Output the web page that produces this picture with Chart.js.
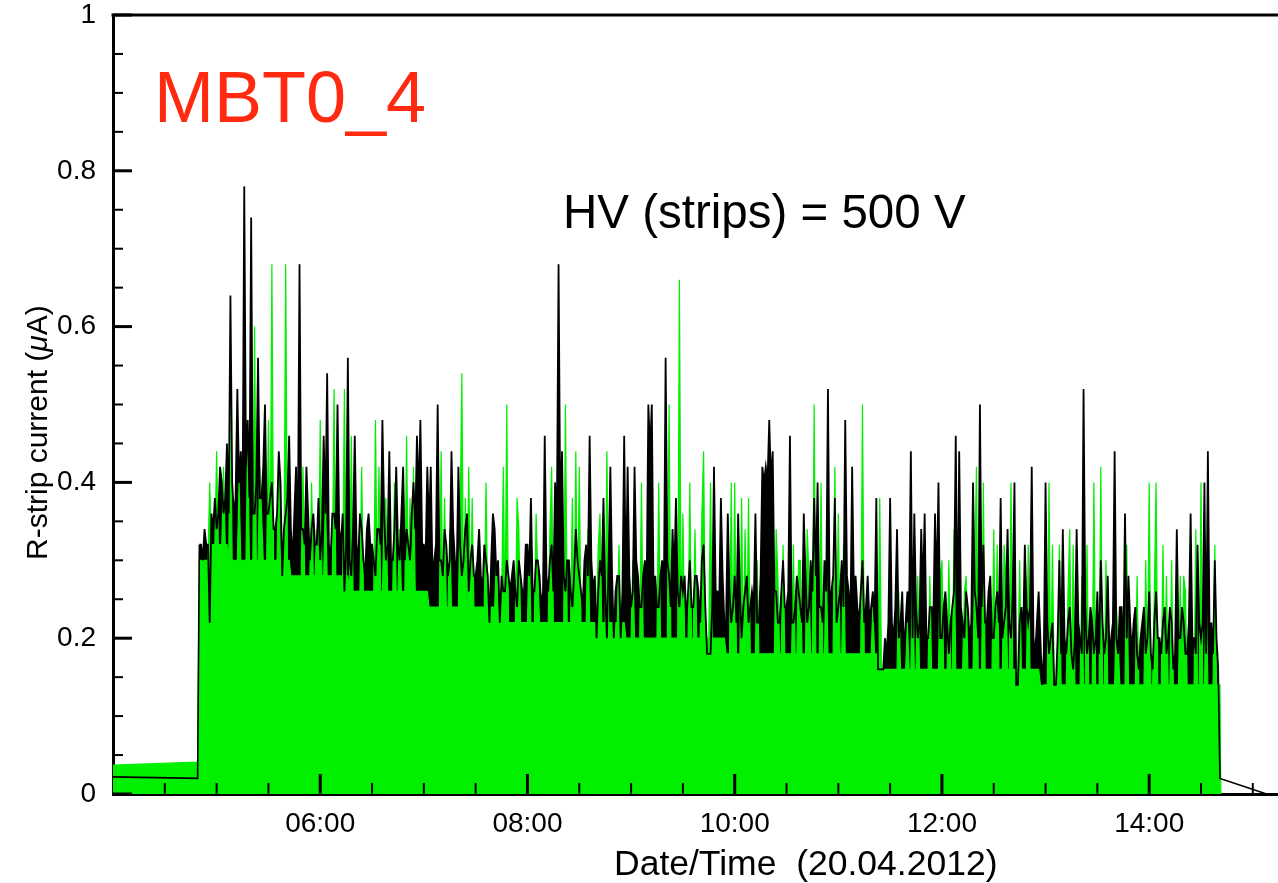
<!DOCTYPE html>
<html><head><meta charset="utf-8">
<script src="https://cdn.jsdelivr.net/npm/chart.js@4.4.1/dist/chart.umd.min.js"></script>
<style>
html,body{margin:0;padding:0;background:#fff;overflow:hidden;}
#wrap{position:relative;width:1278px;height:883px;}
canvas{position:absolute;left:0;top:0;}
.t{position:absolute;font-family:"Liberation Sans",Arial,Helvetica,sans-serif;line-height:1;white-space:pre;color:#000;}
#yt{transform-origin:0 0;transform:rotate(-90deg);}
</style></head><body>
<div id="wrap">
<canvas id="c" width="1278" height="883"></canvas>
<div class="t" style="left:154px;top:61px;font-size:72px;color:#ff2a10;">MBT0_4</div>
<div class="t" style="left:563px;top:188px;font-size:47.5px;">HV (strips) = 500 V</div>
<div class="t" style="left:614px;top:846px;font-size:35.5px;">Date/Time  (20.04.2012)</div>
<div class="t" id="yt" style="left:22px;top:560px;font-size:30px;">R-strip current (<i>μ</i>A)</div>
</div>
<script>
// x in minutes after midnight, 20.04.2012; one sample per minute from 04:50 to 14:40
// currents in units of 0.01 μA
const sampleStartMin = 290;   // 04:50
const sampleStepMin = 1;
const greenCurrent = [
30,30,30,30,30,30,40,32,32,32,44,32,32,32,42,32,32,30,50,30,
30,30,30,40,30,30,30,30,46,30,30,30,60,30,30,42,36,30,30,30,
48,30,68,30,30,30,42,30,30,30,68,30,30,28,28,28,28,28,28,28,
42,28,28,28,28,40,28,28,34,28,48,28,28,38,28,28,28,28,52,28,
28,28,28,28,52,28,28,26,46,26,26,26,26,26,42,26,26,26,26,26,
26,26,48,26,42,26,26,36,38,26,26,26,26,40,26,26,34,26,26,26,
46,26,38,26,42,26,26,26,26,26,26,26,26,24,24,24,24,24,24,24,
44,24,38,24,24,34,24,24,24,24,24,36,54,24,38,24,42,24,38,24,
24,24,24,24,24,24,40,24,24,24,24,24,30,24,24,24,42,22,50,22,
22,22,22,22,38,34,22,22,22,22,22,32,22,22,22,36,28,22,22,22,
22,22,22,34,42,22,22,22,22,22,22,22,50,22,22,22,38,22,44,22,
42,22,22,22,22,34,22,22,22,22,22,32,36,22,22,22,44,22,22,22,
22,22,22,32,22,22,22,20,20,20,20,30,20,20,20,20,40,20,20,20,
20,20,20,20,20,20,40,20,20,20,20,20,50,20,20,20,20,20,66,20,
36,20,20,20,40,20,20,34,20,20,20,36,44,20,20,20,40,20,20,20,
20,20,20,20,20,18,18,18,40,18,40,18,18,18,38,18,34,18,38,18,
18,18,18,30,18,18,18,18,18,18,18,18,18,18,34,28,18,18,32,18,
18,18,18,18,32,18,18,30,30,18,18,18,34,28,18,18,50,18,18,18,
40,18,18,30,18,18,18,18,42,18,36,18,18,32,18,18,18,18,18,18,
18,18,18,18,50,18,18,18,18,18,24,18,18,18,38,16,16,16,16,16,
16,16,16,16,16,26,16,16,16,16,22,16,16,30,16,16,28,16,16,16,
16,16,16,28,16,16,16,16,16,28,30,16,16,16,30,16,16,34,16,16,
16,16,16,26,28,16,16,16,16,30,42,16,16,16,40,16,16,16,16,16,
34,16,32,16,16,16,32,28,16,16,40,16,16,16,16,30,16,16,16,16,
32,16,16,16,16,16,16,14,14,14,14,14,40,14,32,14,14,14,32,14,
14,14,14,26,34,14,32,14,14,14,14,28,14,14,32,14,14,14,40,14,
14,14,42,14,14,30,14,14,14,14,14,24,20,14,14,14,14,32,14,14,
14,14,14,28,14,14,14,14,30,14,40,14,14,26,40,14,14,14,32,14,
28,14,14,30,14,14,14,14,28,14,28,26,14,14,14,14,14,34,14,14,
40,14,14,26,14,14,14,14,32,14,14];
const blackCurrent = [
32,32,30,34,32,32,22,36,34,38,34,36,42,40,36,38,45,36,64,40,
36,38,52,40,44,36,78,42,48,38,74,36,36,40,56,38,38,42,50,36,
36,38,40,34,34,36,44,40,28,34,36,38,46,34,30,36,42,32,68,34,
34,32,42,36,30,34,36,32,32,38,30,34,46,36,54,32,30,36,36,34,
50,34,32,36,26,32,56,30,28,34,46,32,30,36,34,30,28,34,36,32,
32,30,28,34,34,32,48,36,30,32,44,30,30,34,42,32,30,36,42,30,
34,32,30,36,40,34,46,38,48,32,32,30,42,34,42,28,30,32,50,30,
30,28,34,32,28,30,44,34,30,28,42,32,28,30,34,36,26,30,32,28,
28,30,34,28,26,32,30,28,22,30,36,34,28,30,22,28,26,26,30,28,
26,28,30,26,24,30,28,26,26,32,32,28,38,26,26,30,30,28,24,26,
46,28,26,30,32,26,40,34,68,36,44,28,26,30,30,26,24,28,34,30,
28,26,24,30,32,28,46,30,26,28,20,26,30,28,38,26,20,30,42,28,
20,26,28,28,20,26,46,26,42,28,24,26,42,30,28,24,24,28,30,26,
50,44,50,26,28,24,24,28,30,26,56,30,28,24,34,28,38,26,24,28,
26,28,22,26,30,24,24,28,28,26,22,30,32,24,18,18,18,24,42,26,
26,24,38,28,22,22,36,26,22,24,28,22,36,26,20,24,26,28,22,24,
26,24,36,22,22,28,42,40,42,40,48,40,44,26,26,22,22,26,30,24,
24,26,46,22,22,24,28,26,24,22,36,28,22,24,30,26,38,28,40,24,
24,22,30,26,52,24,26,28,38,22,24,26,30,24,48,28,26,22,42,26,
28,24,22,26,30,22,24,28,22,24,26,22,38,16,16,16,16,20,18,22,
38,22,20,24,34,20,22,26,18,22,26,24,44,20,36,24,20,22,34,26,
36,20,20,24,24,22,36,26,40,20,20,24,26,22,18,22,24,26,46,20,
44,24,22,20,26,24,20,22,40,26,24,20,50,24,32,22,22,26,28,20,
20,24,26,22,38,20,22,24,34,22,20,26,40,14,14,22,24,20,32,24,
22,24,42,20,18,22,26,20,14,18,40,22,18,20,22,14,14,20,30,18,
34,20,18,22,24,18,16,20,34,22,20,18,52,24,18,20,24,22,18,20,
26,18,30,22,18,20,28,18,20,22,44,20,18,24,24,18,36,20,28,22,
18,22,24,18,16,20,22,24,18,20,26,18,16,22,26,20,20,18,22,24,
18,20,24,22,16,18,34,20,20,24,22,18,18,22,36,20,20,18,32,22,
20,22,40,18,44,20,22,18,30,20,16];
// low-current stretches before and after the HV ramp (μA)
const greenLeadMin = [240, 289];
const greenLeadVal = [0.037, 0.041];
const greenTailMin = [881, 881.5];
const greenTailVal = [0.14, 0];
const blackLeadMin = [240, 289];
const blackLeadVal = [0.022, 0.020];
const blackTailMin = [880, 881, 908, 915];
const blackTailVal = [0.16, 0.02, 0, 0];
// axes
const xMin = 240, xMax = 914.6;
const xTickMinutes = [360, 480, 600, 720, 840];
const xMinorMinutes = [270,300,330,390,420,450,510,540,570,630,660,690,750,780,810,870,900];
const yTickValues = [0, 0.2, 0.4, 0.6, 0.8, 1];
const yMinorValues = [0.05,0.1,0.15,0.25,0.3,0.35,0.45,0.5,0.55,0.65,0.7,0.75,0.85,0.9,0.95];

const toPts = (ts, vs) => ts.map((t, i) => ({x: t, y: vs[i]}));
const gridPts = arr => arr.map((v, i) => ({x: sampleStartMin + i * sampleStepMin, y: v / 100}));

const greenData = [...toPts(greenLeadMin, greenLeadVal), ...gridPts(greenCurrent), ...toPts(greenTailMin, greenTailVal)];
const blackData = gridPts(blackCurrent);
const blackAreaData = gridPts(blackCurrent);
const blackEnds = [...toPts(blackLeadMin, blackLeadVal), {x: sampleStartMin, y: blackCurrent[0] / 100},
                   {x: 600, y: null}, ...toPts(blackTailMin, blackTailVal)];

const GREEN = '#00f000';
const fmtTime = v => String(Math.floor(v / 60)).padStart(2, '0') + ':' + String(Math.round(v % 60)).padStart(2, '0');

const frameTicks = {
  id: 'frameTicks',
  afterDraw(chart) {
    const {ctx, chartArea: a} = chart;
    const x = chart.scales.x, y = chart.scales.y;
    ctx.save();
    ctx.strokeStyle = '#000';
    ctx.lineCap = 'butt';
    ctx.lineWidth = 3;
    ctx.beginPath(); ctx.moveTo(a.left - 1.5, a.top); ctx.lineTo(chart.width, a.top); ctx.stroke();
    const tick = (x1, y1, x2, y2, w) => { ctx.lineWidth = w; ctx.beginPath(); ctx.moveTo(x1, y1); ctx.lineTo(x2, y2); ctx.stroke(); };
    xTickMinutes.forEach(v => { const p = x.getPixelForValue(v); tick(p, a.bottom, p, a.bottom - 20, 3); });
    xMinorMinutes.forEach(v => { const p = x.getPixelForValue(v); tick(p, a.bottom, p, a.bottom - 11, 2); });
    yTickValues.forEach(v => { const p = y.getPixelForValue(v); tick(a.left, p, a.left + 19, p, 3); });
    yMinorValues.forEach(v => { const p = y.getPixelForValue(v); tick(a.left, p, a.left + 10, p, 2); });
    ctx.restore();
  }
};

new Chart(document.getElementById('c'), {
  type: 'line',
  data: {
    datasets: [
      // black current trace (stroke, on top)
      { label: 'black', data: blackData, borderColor: '#000', borderWidth: 1.8, pointRadius: 0, tension: 0,
        fill: false, order: 0 },
      { label: 'black ends', data: blackEnds, borderColor: '#000', borderWidth: 1.6, pointRadius: 0, tension: 0,
        fill: false, spanGaps: false, order: 0 },
      // green current trace
      { label: 'green', data: greenData, borderColor: GREEN, backgroundColor: GREEN, borderWidth: 1.2, pointRadius: 0,
        tension: 0, fill: 'origin', order: 2 },
      // black trace area, drawn under green: shows only where black exceeds green
      { label: 'black area', data: blackAreaData, borderColor: 'rgba(0,0,0,0)', backgroundColor: '#000', borderWidth: 1,
        pointRadius: 0, tension: 0, fill: 'origin', order: 3 }
    ]
  },
  options: {
    responsive: false, animation: false, events: [],
    layout: {padding: {top: 15, right: 0, left: 0, bottom: 0}},
    plugins: {legend: {display: false}, tooltip: {enabled: false}, title: {display: false}},
    scales: {
      x: {
        type: 'linear', position: 'bottom', min: xMin, max: xMax,
        grid: {display: false, drawTicks: false},
        border: {display: true, width: 3, color: '#000'},
        afterBuildTicks: s => { s.ticks = xTickMinutes.map(v => ({value: v})); },
        afterFit: s => { s.height = 89; s.paddingLeft = 0; s.paddingRight = 0; },
        ticks: {color: '#000', font: {family: 'Liberation Sans', size: 28}, padding: 13, maxRotation: 0, autoSkip: false,
                callback: v => fmtTime(v)}
      },
      y: {
        type: 'linear', position: 'left', min: 0, max: 1,
        grid: {display: false, drawTicks: false},
        border: {display: true, width: 3, color: '#000'},
        afterBuildTicks: s => { s.ticks = yTickValues.map(v => ({value: v})); },
        afterFit: s => { s.width = 113; s.paddingTop = 0; s.paddingBottom = 0; },
        ticks: {color: '#000', font: {family: 'Liberation Sans', size: 28}, padding: 17, autoSkip: false,
                callback: v => (v === 0 || v === 1) ? String(v) : v.toFixed(1)}
      }
    }
  },
  plugins: [frameTicks]
});
</script>
</body></html>
